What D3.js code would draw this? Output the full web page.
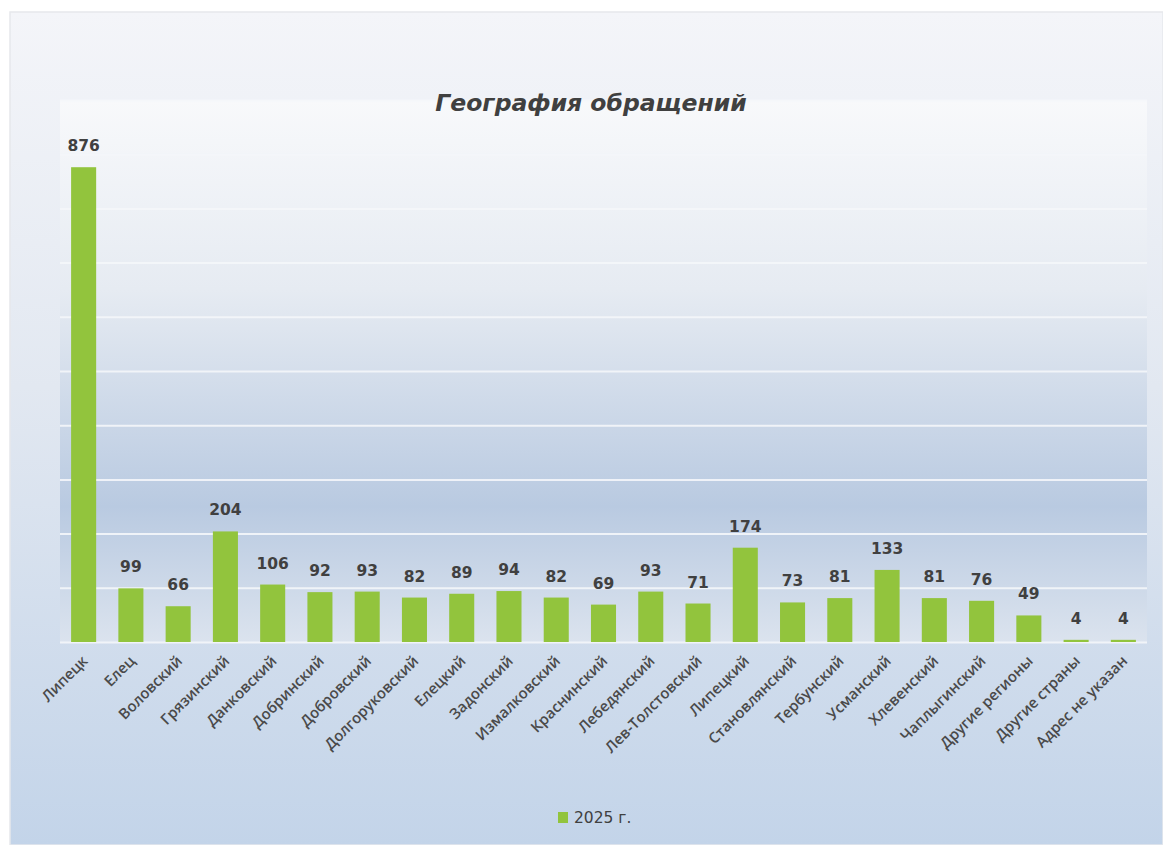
<!DOCTYPE html>
<html>
<head>
<meta charset="utf-8">
<script src="https://cdn.jsdelivr.net/npm/d3@7"></script>
<style>
  body { margin: 0; background: #ffffff; }
  svg { display: block; }
</style>
</head>
<body>
<svg id="chart"></svg>
<script>
// data
const categories = [
  "Липецк", "Елец", "Воловский", "Грязинский", "Данковский", "Добринский",
  "Добровский", "Долгоруковский", "Елецкий", "Задонский", "Измалковский",
  "Краснинский", "Лебедянский", "Лев-Толстовский", "Липецкий", "Становлянский",
  "Тербунский", "Усманский", "Хлевенский", "Чаплыгинский", "Другие регионы",
  "Другие страны", "Адрес не указан"
];
const values2025 = [876, 99, 66, 204, 106, 92, 93, 82, 89, 94, 82, 69, 93, 71, 174, 73, 81, 133, 81, 76, 49, 4, 4];
const seriesName = "2025 г.";
const yTicks = [0, 100, 200, 300, 400, 500, 600, 700, 800, 900, 1000];

const W = 1163, H = 845;
const plot = { left: 60, top: 100, right: 1147, bottom: 642 };
const barColor = "#92c43d";
const textColor = "#404040";

const svg = d3.select("#chart").attr("width", W).attr("height", H);
const defs = svg.append("defs");

const outerGrad = defs.append("linearGradient")
  .attr("id", "outerGrad").attr("x1", 0).attr("y1", 0).attr("x2", 0).attr("y2", 1);
outerGrad.append("stop").attr("offset", "0%").attr("stop-color", "#f4f5f9");
outerGrad.append("stop").attr("offset", "45%").attr("stop-color", "#e2e8f1");
outerGrad.append("stop").attr("offset", "100%").attr("stop-color", "#c3d4e9");

const plotGrad = defs.append("linearGradient")
  .attr("id", "plotGrad").attr("x1", 0).attr("y1", 0).attr("x2", 0).attr("y2", 1);
plotGrad.append("stop").attr("offset", "0%").attr("stop-color", "#f8f9fb");
plotGrad.append("stop").attr("offset", "35%").attr("stop-color", "#e6ebf2");
plotGrad.append("stop").attr("offset", "75%").attr("stop-color", "#b9cae1");
plotGrad.append("stop").attr("offset", "100%").attr("stop-color", "#dbe3ee");

// chart area
svg.append("rect")
  .attr("x", 10).attr("y", 12)
  .attr("width", W - 10).attr("height", H - 12)
  .attr("fill", "url(#outerGrad)")
  .attr("stroke", "#e6e8ec").attr("stroke-width", 1.5);

svg.append("rect")
  .attr("x", plot.left).attr("y", plot.top)
  .attr("width", plot.right - plot.left).attr("height", plot.bottom - plot.top)
  .attr("fill", "url(#plotGrad)");

// scales
const x = d3.scaleBand()
  .domain(categories)
  .range([plot.left, plot.right])
  .paddingInner(0.47)
  .paddingOuter(0.235);

const y = d3.scaleLinear()
  .domain([0, 1000])
  .range([plot.bottom, plot.top]);

// gridlines
const grid = svg.append("g")
  .attr("transform", `translate(${plot.left},0)`)
  .call(d3.axisLeft(y).tickValues(yTicks).tickSize(-(plot.right - plot.left)).tickFormat(""));
grid.select(".domain").remove();
grid.selectAll(".tick line")
  .attr("stroke", "#f4f6fa").attr("stroke-width", 2).attr("stroke-opacity", 0.9);

// bars
svg.selectAll(".bar")
  .data(values2025)
  .enter()
  .append("rect")
  .attr("class", "bar")
  .attr("x", (d, i) => x(categories[i]))
  .attr("y", (d) => y(d))
  .attr("width", x.bandwidth())
  .attr("height", (d) => y(0) - y(d))
  .attr("fill", barColor);

// value labels
svg.selectAll(".val")
  .data(values2025)
  .enter()
  .append("text")
  .attr("class", "val")
  .attr("x", (d, i) => x(categories[i]) + x.bandwidth() / 2)
  .attr("y", (d) => y(d) - 16)
  .attr("text-anchor", "middle")
  .style("font-family", "DejaVu Sans")
  .style("font-weight", "bold")
  .style("font-size", "15.5px")
  .attr("fill", textColor)
  .text((d) => d);

// category labels
svg.selectAll(".cat")
  .data(categories)
  .enter()
  .append("text")
  .attr("class", "cat")
  .attr("transform", (d) => `translate(${x(d) + x.bandwidth() / 2 + 5},${plot.bottom + 20}) rotate(-45)`)
  .attr("text-anchor", "end")
  .style("font-family", "Open Sans")
  .style("font-weight", "600")
  .style("font-size", "15px")
  .attr("fill", "#4a4a4a")
  .text((d) => d);

// title
svg.append("text")
  .attr("x", 591)
  .attr("y", 111)
  .attr("text-anchor", "middle")
  .style("font-family", "DejaVu Sans")
  .style("font-weight", "bold")
  .style("font-style", "italic")
  .style("font-size", "23.5px")
  .attr("fill", textColor)
  .text("География обращений");

// legend
const legend = svg.append("g").attr("transform", "translate(558,812)");
legend.append("rect").attr("width", 10).attr("height", 11).attr("fill", barColor);
legend.append("text")
  .attr("x", 16).attr("y", 11)
  .style("font-family", "DejaVu Sans")
  .style("font-size", "15.5px")
  .attr("fill", textColor)
  .text(seriesName);
</script>
</body>
</html>
